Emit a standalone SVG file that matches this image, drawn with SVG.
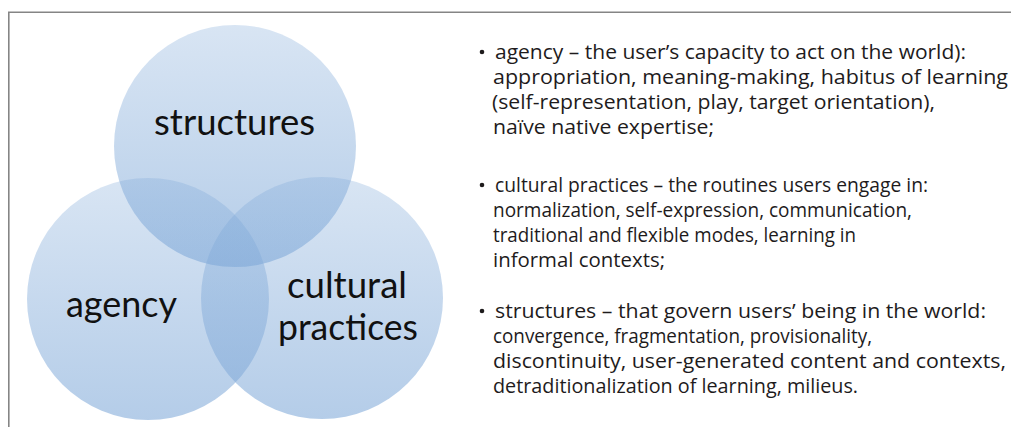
<svg xmlns="http://www.w3.org/2000/svg" width="1011" height="427" viewBox="0 0 1011 427">
  <defs>
    <linearGradient id="bubble" x1="0" y1="0" x2="0" y2="1">
      <stop offset="0" stop-color="#7ea8d8" stop-opacity="0.30"/>
      <stop offset="1" stop-color="#7ea8d8" stop-opacity="0.58"/>
    </linearGradient>
  </defs>
  <style>
    .frame { fill: none; stroke: #858585; stroke-width: 1.6; }
    .set { fill: url(#bubble); stroke: none; }
    .label { font-family: Lato, "Liberation Sans", sans-serif; font-size: 36px; fill: #111; }
    .body { font-family: "Open Sans", "Liberation Sans", sans-serif; font-size: 19.5px; fill: #1e1b1c; }
    .bullet { fill: #1e1b1c; }
  </style>
  <rect width="1011" height="427" fill="#ffffff"/>
  <path class="frame" d="M8.8,427 V12.3 H1011"/>

  <g id="venn">
    <g id="node-structures">
      <circle class="set" cx="235" cy="146" r="121"/>
      <text class="label" x="154" y="135" textLength="161" lengthAdjust="spacingAndGlyphs">structures</text>
    </g>
    <g id="node-agency">
      <circle class="set" cx="148" cy="299" r="121"/>
      <text class="label" x="66" y="317" textLength="111" lengthAdjust="spacingAndGlyphs">agency</text>
    </g>
    <g id="node-cultural-practices">
      <circle class="set" cx="322" cy="298" r="121"/>
      <text class="label" x="287" y="298" textLength="120" lengthAdjust="spacingAndGlyphs">cultural</text>
      <text class="label" x="278" y="340" textLength="140" lengthAdjust="spacingAndGlyphs">practices</text>
    </g>
  </g>
  <g id="connectors"/>

  <g id="legend">
    <g id="item-agency">
      <circle class="bullet" cx="482" cy="52" r="2.3"/>
      <text class="body" x="495" y="59" textLength="471" lengthAdjust="spacingAndGlyphs">agency – the user’s capacity to act on the world):</text>
      <text class="body" x="493" y="84" textLength="515" lengthAdjust="spacingAndGlyphs">appropriation, meaning-making, habitus of learning</text>
      <text class="body" x="492" y="109" textLength="443" lengthAdjust="spacingAndGlyphs">(self-representation, play, target orientation),</text>
      <text class="body" x="493" y="134" textLength="221" lengthAdjust="spacingAndGlyphs">naïve native expertise;</text>
    </g>
    <g id="item-cultural-practices">
      <circle class="bullet" cx="482" cy="185" r="2.3"/>
      <text class="body" x="495" y="192" textLength="433" lengthAdjust="spacingAndGlyphs">cultural practices – the routines users engage in:</text>
      <text class="body" x="493" y="217" textLength="419" lengthAdjust="spacingAndGlyphs">normalization, self-expression, communication,</text>
      <text class="body" x="493" y="242" textLength="363" lengthAdjust="spacingAndGlyphs">traditional and flexible modes, learning in</text>
      <text class="body" x="493" y="267" textLength="172" lengthAdjust="spacingAndGlyphs">informal contexts;</text>
    </g>
    <g id="item-structures">
      <circle class="bullet" cx="482" cy="311" r="2.3"/>
      <text class="body" x="495" y="318" textLength="491" lengthAdjust="spacingAndGlyphs">structures – that govern users’ being in the world:</text>
      <text class="body" x="493" y="343" textLength="379" lengthAdjust="spacingAndGlyphs">convergence, fragmentation, provisionality,</text>
      <text class="body" x="493" y="368" textLength="513" lengthAdjust="spacingAndGlyphs">discontinuity, user-generated content and contexts,</text>
      <text class="body" x="493" y="393" textLength="365" lengthAdjust="spacingAndGlyphs">detraditionalization of learning, milieus.</text>
    </g>
  </g>
</svg>
